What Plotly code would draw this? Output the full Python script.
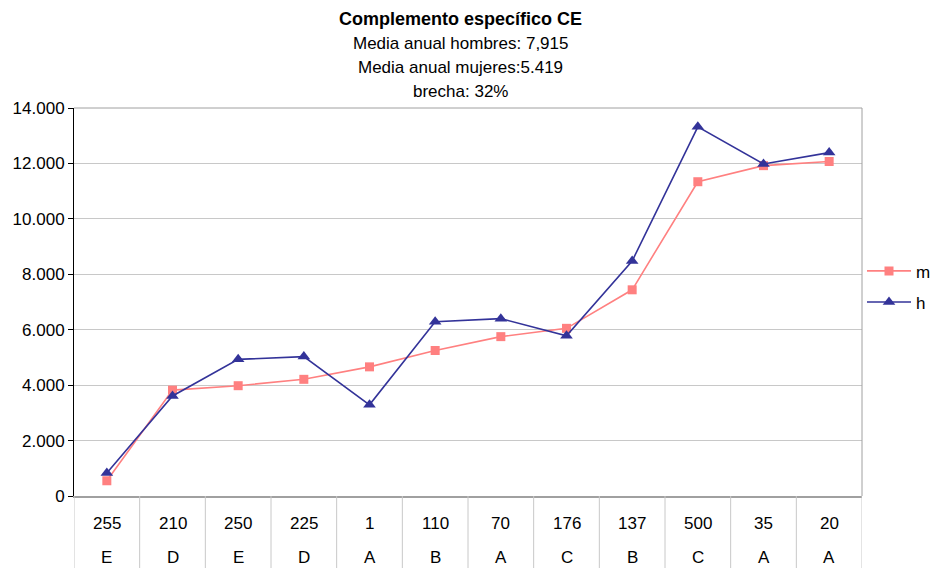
import plotly.graph_objects as go

# Category codes (upper row) and group letters (lower row)
codes = ["255", "210", "250", "225", "1", "110", "70", "176", "137", "500", "35", "20"]
groups = ["E", "D", "E", "D", "A", "B", "A", "C", "B", "C", "A", "A"]

# Annual specific complement by sex
m_vals = [550, 3820, 3980, 4210, 4660, 5250, 5750, 6050, 7440, 11340, 11920, 12070]
h_vals = [830, 3610, 4930, 5030, 3290, 6290, 6400, 5780, 8480, 13320, 11980, 12390]

title_lines = [
    "<b>Complemento específico CE</b>",
    "Media anual hombres: 7,915",
    "Media anual mujeres:5.419",
    "brecha: 32%",
]

FONT = "Liberation Sans, Arial, sans-serif"
FS = 17
x_idx = list(range(len(codes)))

fig = go.Figure()
fig.add_trace(go.Scatter(
    x=x_idx, y=m_vals, name="m", mode="lines+markers", legendgroup="m",
    line=dict(color="#FF8080", width=1.6),
    marker=dict(symbol="square", size=9, color="#FF8080"),
))
fig.add_trace(go.Scatter(
    x=x_idx, y=h_vals, name="h", mode="lines+markers", legendgroup="h",
    line=dict(color="#333399", width=1.6),
    marker=dict(symbol="triangle-up", size=11, color="#333399"),
))

plot_h = 568 - 108 - 72
annotations = []
# title block, centred over the whole chart area
title_y = [19, 44, 68, 92]
for txt, ypx in zip(title_lines, title_y):
    annotations.append(dict(
        text=txt, xref="paper", yref="paper", x=0.49,
        y=1 + (108 - ypx) / plot_h, xanchor="center", yanchor="middle",
        showarrow=False,
        font=dict(family=FONT, size=18 if txt.startswith("<b>") else FS, color="#000000"),
    ))
# category table below the axis
for i, (c, g) in enumerate(zip(codes, groups)):
    annotations.append(dict(text=c, x=i, xref="x", yref="paper", y=-(523 - 496) / plot_h,
                            yanchor="middle", showarrow=False,
                            font=dict(family=FONT, size=FS, color="#000000")))
    annotations.append(dict(text=g, x=i, xref="x", yref="paper", y=-(557 - 496) / plot_h,
                            yanchor="middle", showarrow=False,
                            font=dict(family=FONT, size=FS, color="#000000")))

shapes = []
for k in range(len(codes) + 1):
    shapes.append(dict(type="line", xref="x", yref="paper", x0=k - 0.5, x1=k - 0.5,
                       y0=0, y1=-80 / plot_h, line=dict(color="#C8C8C8", width=1)))
# right and top frame of the plot area
shapes.append(dict(type="line", xref="paper", yref="paper", x0=1, x1=1, y0=0, y1=1,
                   line=dict(color="#A0A0A0", width=1)))
shapes.append(dict(type="line", xref="paper", yref="paper", x0=0, x1=1, y0=1, y1=1,
                   line=dict(color="#A0A0A0", width=1)))

fig.update_layout(
    width=932, height=568,
    margin=dict(l=74, r=70, t=108, b=72, autoexpand=False),
    paper_bgcolor="white", plot_bgcolor="white",
    separators=",.",
    font=dict(family=FONT, size=FS, color="#000000"),
    showlegend=True,
    legend=dict(x=1.0, y=0.539, xanchor="left", yanchor="middle",
                traceorder="grouped", tracegroupgap=6, itemwidth=44,
                font=dict(family=FONT, size=FS, color="#000000"),
                bgcolor="rgba(0,0,0,0)"),
    annotations=annotations,
    shapes=shapes,
)
fig.update_xaxes(
    range=[-0.5, len(codes) - 0.5], showticklabels=False, showgrid=False,
    zeroline=False, showline=True, linecolor="#A0A0A0", linewidth=2,
)
fig.update_yaxes(
    range=[0, 14000], dtick=2000, tickformat=",d",
    showgrid=True, gridcolor="#C8C8C8", gridwidth=1,
    zeroline=False, showline=True, linecolor="#000000", linewidth=1,
    ticks="outside", ticklen=5, tickcolor="#000000",
    tickfont=dict(family=FONT, size=FS, color="#000000"),
)

fig.write_html("out.html")
